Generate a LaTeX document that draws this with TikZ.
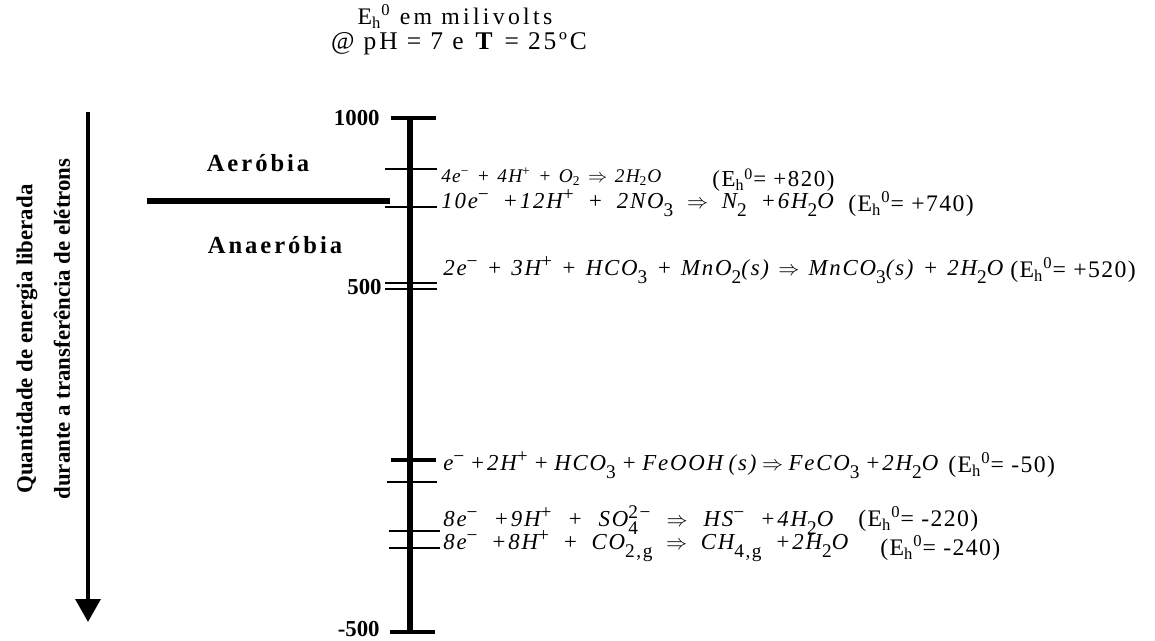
\documentclass[tikz,border=0pt]{standalone}
\usepackage{fontspec}
\setmainfont{Liberation Serif}
\usetikzlibrary{arrows.meta}

\newcommand\sps[1]{\raisebox{0.8ex}{\upshape\fontsize{11}{11}\selectfont #1}}
\newcommand\sbs[1]{\raisebox{-0.7ex}{\upshape\fontsize{11}{11}\selectfont #1}}
\newcommand\imp{\ $\Rightarrow$\ }
\newcommand\ehz{E\textsubscript{h}\textsuperscript{0}}
\newcommand\rx[2]{\makebox[#1][s]{#2}}

\tikzset{
  reac/.style={anchor=west, inner sep=0pt, font=\fontsize{13}{14}\selectfont\itshape\addfontfeature{LetterSpace=8}},
  ehval/.style={anchor=west, inner sep=0pt, font=\fontsize{13.5}{15}\selectfont\addfontfeature{LetterSpace=6}},
  thin tick/.style={line width=0.8pt},
  bold tick/.style={line width=2.4pt},
  zone/.style={font=\bfseries\fontsize{14}{16}\selectfont\addfontfeature{LetterSpace=12}},
  scalelbl/.style={anchor=east, inner sep=0pt, font=\bfseries\fontsize{13}{15}\selectfont},
  sidetxt/.style={rotate=90, font=\bfseries\fontsize{13}{15}\selectfont}
}

\begin{document}
\begin{tikzpicture}[x=0.02cm, y=-0.02cm]
  \useasboundingbox (0,0) rectangle (1155,640);

  % title
  \node[font=\fontsize{13.5}{15}\selectfont\addfontfeature{LetterSpace=14}] (title1) at (455,16) {\ehz\ em milivolts};
  \node[font=\fontsize{14.5}{16}\selectfont\addfontfeature{LetterSpace=11}] (title2) at (459,44) {@ pH = 7 e \textbf{T} = 25ºC};

  % the scale
  \coordinate (top) at (410,118);
  \coordinate (bot) at (410,632);
  \draw[line width=3.4pt] (top) -- (bot);
  \draw[bold tick] (391,118) -- (436,118);
  \draw[bold tick] (390,632) -- (435,632);
  \node[scalelbl] (v1000) at (380,118) {1000};
  \node[scalelbl] (v500) at (382,287) {500};
  \node[scalelbl] (vm500) at (380,629) {-500};

  % ticks of the reactions
  \draw[thin tick] (385,169) -- (437,169);
  \draw[thin tick] (385,207) -- (437,207);
  \draw[line width=1.2pt] (385,283) -- (437,283);
  \draw[line width=1.2pt] (385,289) -- (437,289);
  \draw[line width=2.8pt] (391,460) -- (436,460);
  \draw[thin tick] (387,482) -- (437,482);
  \draw[thin tick] (389,531) -- (440,531);
  \draw[thin tick] (389,548) -- (440,548);

  % aerobic / anaerobic
  \coordinate (sepl) at (147,201);
  \coordinate (sepr) at (390,201);
  \draw[line width=3pt] (sepl) -- (sepr);
  \node[zone] (aer) at (258,163) {Aeróbia};
  \node[zone] (anaer) at (275,245) {Anaeróbia};

  % energy arrow
  \coordinate (arrtop) at (88,112);
  \coordinate (arrbot) at (88,622);
  \draw[line width=2.3pt, -{Triangle[width=14pt,length=13pt]}] (arrtop) -- (arrbot);
  \node[sidetxt] (qtd) at (27,339) {Quantidade de energia liberada};
  \node[sidetxt] (dur) at (62,329) {durante a transferência de elétrons};

  % reactions
  \node[reac, font=\fontsize{11}{12}\selectfont\itshape\addfontfeature{LetterSpace=6}] (r1) at (441,177)
    {\rx{4.4cm}{4e\textsuperscript{\upshape −} + 4H\textsuperscript{\upshape +} + O\textsubscript{\upshape 2}\imp 2H\textsubscript{\upshape 2}O}};
  \node[ehval, font=\fontsize{13}{15}\selectfont\addfontfeature{LetterSpace=7}] (e1) at (712,180) {(\ehz= +820)};
  \node[reac] (r2) at (441,203)
    {\rx{7.85cm}{10e\sps{−} +12H\sps{+} + 2NO\sbs{3}\imp N\sbs{2} +6H\sbs{2}O}};
  \node[ehval] (e2) at (848,204) {(\ehz= +740)};
  \node[reac] (r3) at (443,270)
    {\rx{11.2cm}{2e\sps{−} + 3H\sps{+} + HCO\sbs{3} + MnO\sbs{2}(s)\imp MnCO\sbs{3}(s) + 2H\sbs{2}O}};
  \node[ehval] (e3) at (1010,270) {(\ehz= +520)};
  \node[reac] (r4) at (443,465)
    {\rx{9.9cm}{e\sps{−} +2H\sps{+} + HCO\sbs{3} + FeOOH (s)\imp FeCO\sbs{3} +2H\sbs{2}O}};
  \node[ehval] (e4) at (948,465) {(\ehz= -50)};
  \node[reac] (r5) at (443,520)
    {\rx{7.8cm}{8e\sps{−} +9H\sps{+} + SO\rlap{\sbs{4}}\sps{2−}\imp HS\sps{−} +4H\sbs{2}O}};
  \node[ehval] (e5) at (858,519) {(\ehz= -220)};
  \node[reac] (r6) at (443,546)
    {\rx{8.1cm}{8e\sps{−} +8H\sps{+} + CO\sbs{2,g}\imp CH\sbs{4,g} +2H\sbs{2}O}};
  \node[ehval] (e6) at (880,548) {(\ehz= -240)};
\end{tikzpicture}
\end{document}
